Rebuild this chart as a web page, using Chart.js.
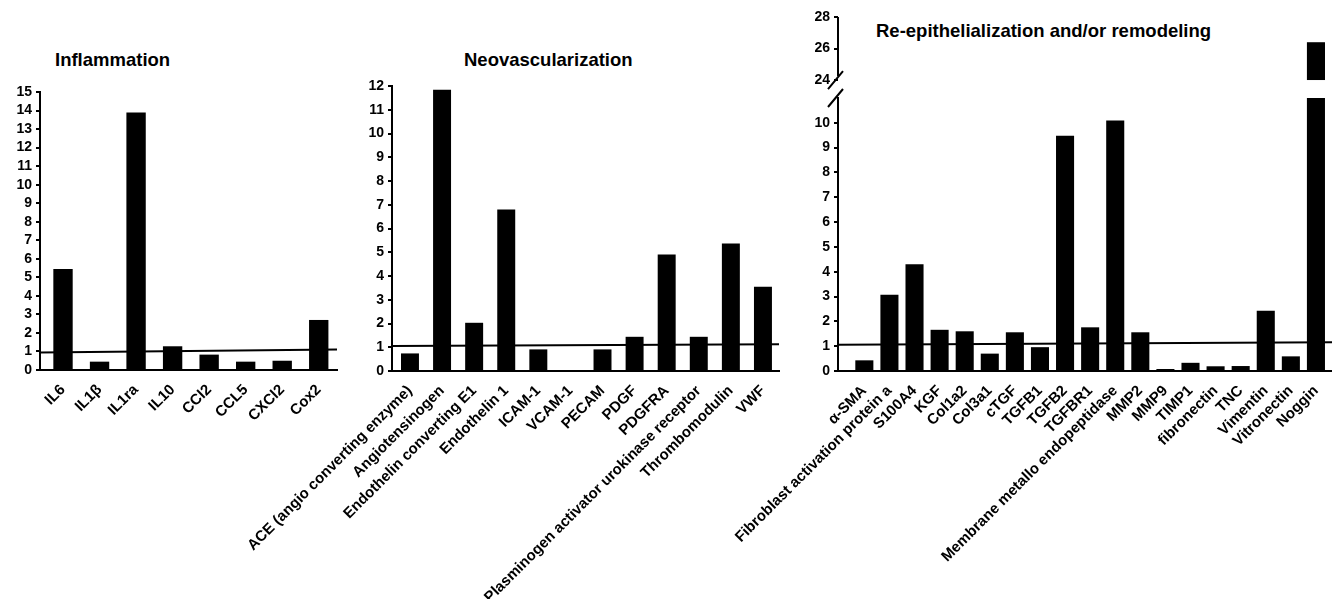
<!DOCTYPE html>
<html>
<head>
<meta charset="utf-8">
<script src="https://cdn.jsdelivr.net/npm/chart.js@4/dist/chart.umd.min.js"></script>
<style>
  body { margin: 0; background: #fff; width: 1332px; height: 599px; position: relative; overflow: hidden;
         font-family: 'Liberation Sans', Arial, sans-serif; }
  canvas { position: absolute; top: 0; }
  .title { position: absolute; font-weight: bold; font-size: 18.5px; line-height: 18px; white-space: nowrap; color: #000; }
</style>
</head>
<body>
<div class="title" style="left:55px;top:51px">Inflammation</div>
<div class="title" style="left:464px;top:51px">Neovascularization</div>
<div class="title" style="left:876px;top:22px">Re-epithelialization and/or remodeling</div>
<canvas id="c1" width="340" height="599" style="left:0px"></canvas>
<canvas id="c2" width="555" height="599" style="left:230px"></canvas>
<canvas id="c3" width="642" height="599" style="left:690px"></canvas>
<script>
// --- data ---
const inflLabels = ['IL6', 'IL1β', 'IL1ra', 'IL10', 'CCl2', 'CCL5', 'CXCl2', 'Cox2'];
const inflValues = [5.45, 0.45, 13.9, 1.28, 0.83, 0.45, 0.5, 2.7];
const inflBaseline = [0.95, 1.1];

const neoLabels = ['ACE (angio converting enzyme)', 'Angiotensinogen', 'Endothelin converting E1',
  'Endothelin 1', 'ICAM-1', 'VCAM-1', 'PECAM', 'PDGF', 'PDGFRA',
  'Plasminogen activator urokinase receptor', 'Thrombomodulin', 'VWF'];
const neoValues = [0.74, 11.84, 2.03, 6.8, 0.91, 0, 0.91, 1.44, 4.91, 1.44, 5.37, 3.55];
const neoBaseline = [1.05, 1.13];

const remoLabels = ['α-SMA', 'Fibroblast activation protein a', 'S100A4', 'KGF', 'Col1a2', 'Col3a1',
  'cTGF', 'TGFB1', 'TGFB2', 'TGFBR1', 'Membrane metallo endopeptidase', 'MMP2', 'MMP9',
  'TIMP1', 'fibronectin', 'TNC', 'Vimentin', 'Vitronectin', 'Noggin'];
const remoValues = [0.43, 3.07, 4.3, 1.66, 1.6, 0.7, 1.56, 0.96, 9.48, 1.76, 10.09, 1.56,
  0.08, 0.33, 0.19, 0.2, 2.43, 0.59, 26.4];
const remoBaseline = [1.06, 1.16];

// broken axis of the third panel
const lowTop = 11;
const highBottom = 24;
const highTop = 28;

Chart.defaults.font.family = "'Liberation Sans', Arial, sans-serif";
Chart.defaults.color = '#000';

const tickFont = { size: 14, weight: 'bold' };
const labelFont = { size: 15, weight: 'bold' };
const axisGrid = { drawOnChartArea: false, drawTicks: true, tickLength: 4, color: '#000', lineWidth: 2 };

function makePanel(id, p) {
  const datasets = [
    {
      type: 'line',
      data: [{ x: p.xMin, y: p.baseline[0] }, { x: p.xMax, y: p.baseline[1] }],
      borderColor: '#000', borderWidth: 2, pointRadius: 0, order: 5, yAxisID: 'y'
    },
    {
      type: 'bar',
      data: p.values.map((v, i) => ({ x: i, y: Math.min(v, p.yMax) })),
      backgroundColor: '#000', borderWidth: 0, grouped: false,
      barPercentage: p.bar, categoryPercentage: 1, order: 1, yAxisID: 'y'
    }
  ];

  const scales = {
    x: {
      type: 'linear', min: p.xMin, max: p.xMax, offset: false,
      grid: { display: false },
      border: { color: '#000', width: 2 },
      afterBuildTicks: s => { s.ticks = p.labels.map((_, i) => ({ value: i })); },
      afterFit: s => { s.height = p.xHeight; s.paddingLeft = 0; s.paddingRight = 0; },
      ticks: {
        autoSkip: false, minRotation: 45, maxRotation: 45, padding: 3,
        font: labelFont, color: '#000',
        callback: v => p.labels[v]
      }
    },
    y: {
      min: 0, max: p.yMax, position: 'left',
      grid: axisGrid,
      border: { color: '#000', width: 2 },
      afterBuildTicks: s => { s.ticks = s.ticks.filter(t => t.value <= p.yTickMax); },
      afterFit: s => { s.width = p.yWidth; },
      ticks: { stepSize: 1, autoSkip: false, padding: 4, font: tickFont, color: '#000' }
    }
  };

  const plugins = [];
  if (p.broken) {
    // upper part of the broken axis
    const high = p.values.map((v, i) => (v > highBottom ? { x: i, y: [highBottom, v] } : null)).filter(Boolean);
    datasets.push({
      type: 'bar', data: high, backgroundColor: '#000', borderWidth: 0, grouped: false,
      barPercentage: p.bar, categoryPercentage: 1, order: 1, yAxisID: 'y2'
    });
    scales.y.stack = 'v';
    scales.y.stackWeight = p.lowWeight;
    scales.y.weight = 0;
    scales.y2 = {
      min: p.highMin, max: highTop, position: 'left', stack: 'v', stackWeight: p.highWeight, weight: 1,
      grid: axisGrid,
      border: { display: false },
      afterBuildTicks: s => { s.ticks = s.ticks.filter(t => t.value >= highBottom); },
      afterFit: s => { s.width = p.yWidth; },
      ticks: { stepSize: 2, autoSkip: false, padding: 4, font: tickFont, color: '#000' }
    };
    plugins.push({
      id: 'axisBreak',
      afterDraw(chart) {
        const up = chart.scales.y2, lo = chart.scales.y;
        const ctx = chart.ctx;
        const x = up.right;
        ctx.save();
        ctx.strokeStyle = '#000';
        ctx.lineWidth = 2;
        ctx.beginPath();
        ctx.moveTo(x, up.getPixelForValue(highTop));
        ctx.lineTo(x, up.getPixelForValue(highBottom) - 4);
        [up.getPixelForValue(highBottom), lo.getPixelForValue(lowTop)].forEach(py => {
          ctx.moveTo(x - 10, py + 9);
          ctx.lineTo(x + 5, py - 9);
        });
        ctx.stroke();
        ctx.restore();
      }
    });
  }

  new Chart(document.getElementById(id), {
    type: 'bar',
    data: { datasets: datasets },
    options: {
      responsive: false,
      animation: false,
      events: [],
      layout: { padding: { top: p.padTop, right: p.padRight, left: 0, bottom: 0 } },
      plugins: { legend: { display: false }, tooltip: { enabled: false } },
      scales: scales
    },
    plugins: plugins
  });
}

makePanel('c1', {
  labels: inflLabels, values: inflValues, baseline: inflBaseline,
  xMin: -0.63, xMax: 7.5, yMax: 15, yTickMax: 15, bar: 0.53,
  yWidth: 40, padTop: 92, padRight: 3, xHeight: 229
});

makePanel('c2', {
  labels: neoLabels, values: neoValues, baseline: neoBaseline,
  xMin: -0.56, xMax: 11.5, yMax: 12, yTickMax: 12, bar: 0.56,
  yWidth: 162, padTop: 86, padRight: 6, xHeight: 228
});

makePanel('c3', {
  labels: remoLabels, values: remoValues, baseline: remoBaseline,
  xMin: -1.05, xMax: 18.64, yMax: lowTop, yTickMax: 10, bar: 0.72,
  yWidth: 148, padTop: 17, padRight: 0, xHeight: 228,
  broken: true, highMin: 22.86, lowWeight: 273, highWeight: 81
});
</script>
</body>
</html>
